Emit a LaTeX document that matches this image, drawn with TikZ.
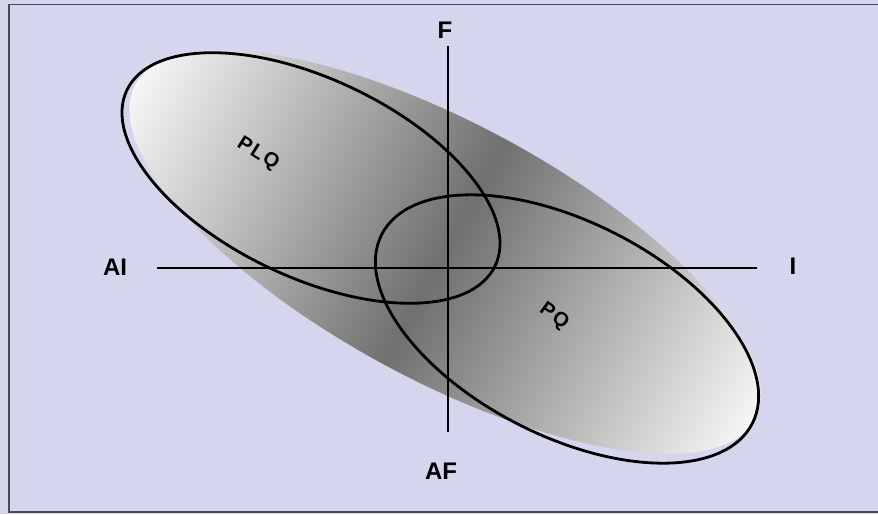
\documentclass[tikz,border=0pt]{standalone}
\usepackage{fontspec}
\setmainfont{Liberation Sans}
\usetikzlibrary{positioning}
\definecolor{bg-lavender}{HTML}{D6D5EE}
\definecolor{frame-grey}{HTML}{4A4A55}
\definecolor{core-grey}{HTML}{707070}
\definecolor{tip-grey}{HTML}{F6F6F6}
\tikzset{
  axis-line/.style={line width=1.7pt, draw=black},
  party-ring/.style={line width=2.8pt, draw=black},
  axis-label/.style={font=\bfseries\fontsize{24}{24}\selectfont, text=black, inner sep=0pt},
  party-label/.style={font=\bfseries\fontsize{20}{20}\selectfont\addfontfeature{LetterSpace=10}, text=black, inner sep=0pt}
}

\begin{document}
\begin{tikzpicture}[x=1pt, y=-1pt]
  \useasboundingbox (0,0) rectangle (878,514);
  % Fond et cadre
  \fill[bg-lavender] (0,0) rectangle (878,514);
  \draw[frame-grey, line width=1.5pt] (880,4.5) -- (9,4.5) -- (9,512) -- (880,512);

  % Zone grise commune (dégradé le long du grand axe)
  \shade[transform canvas={rotate around={-28.4:(445,252)}},
    left color=tip-grey, right color=tip-grey, middle color=core-grey]
    (445,252) ellipse (352 and 128);

  % Ellipses des partis
  \draw[party-ring, rotate around={-25.5:(311,178)}] (311,178) ellipse (204 and 99);
  \draw[party-ring, rotate around={-27:(567,329)}] (567,329) ellipse (208 and 107);

  % Axes
  \coordinate (axW) at (157,268);
  \coordinate (axE) at (757,268);
  \coordinate (axN) at (448,46);
  \coordinate (axS) at (448,432);
  \draw[axis-line] (axW) -- (axE);
  \draw[axis-line] (axN) -- (axS);

  % Étiquettes
  \node[axis-label] (lblF) at (445,30) {F};
  \node[axis-label] (lblAF) at (441,471) {AF};
  \node[axis-label] (lblAI) at (115,267) {AI};
  \node[axis-label] (lblI) at (793,266) {I};
  \node[party-label, rotate=-32] (lblPLQ) at (258,154) {PLQ};
  \node[party-label, rotate=-36] (lblPQ) at (554,317) {PQ};
\end{tikzpicture}
\end{document}
